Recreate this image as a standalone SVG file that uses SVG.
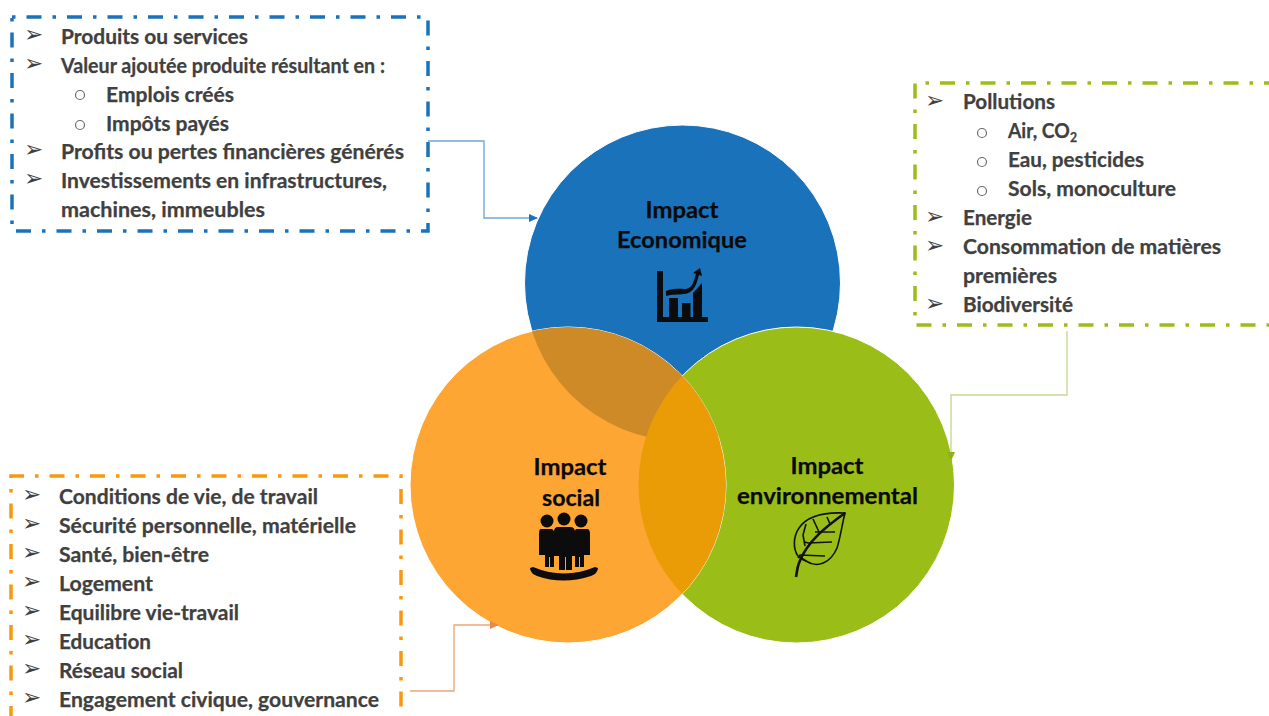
<svg xmlns="http://www.w3.org/2000/svg" width="1269" height="716" viewBox="0 0 1269 716">
<style>
.t{font-family:Lato,"Open Sans",sans-serif;font-weight:700;font-size:20.5px;fill:#404040;stroke:#404040;stroke-width:.25}
.b{font-family:"DejaVu Sans",sans-serif;font-size:23px;fill:#404040}
.o{fill:none;stroke:#6a6a6a;stroke-width:1.2}
.h{font-family:Lato,"Open Sans",sans-serif;font-weight:700;font-size:23.5px;fill:#0a0a0a;stroke:#0a0a0a;stroke-width:.25;text-anchor:middle}
.box{fill:none;stroke-width:3.5;stroke-dasharray:15 11 3.5 11}
.c{fill:none;stroke-width:1.4}
.k{fill:#0c0c0c}
</style>
<defs>
<clipPath id="cb"><circle cx="682.5" cy="283" r="158"/></clipPath>
<clipPath id="cg"><circle cx="796.5" cy="485" r="158"/></clipPath>
<marker id="ab" markerWidth="9" markerHeight="8" refX="8" refY="4" orient="auto" markerUnits="userSpaceOnUse"><path d="M0 0L9 4L0 8Z" fill="#1a72bb"/></marker>
<marker id="ag" markerWidth="9" markerHeight="8" refX="8" refY="4" orient="auto" markerUnits="userSpaceOnUse"><path d="M0 0L9 4L0 8Z" fill="#8fb01a"/></marker>
<marker id="ao" markerWidth="9" markerHeight="8" refX="8" refY="4" orient="auto" markerUnits="userSpaceOnUse"><path d="M0 0L9 4L0 8Z" fill="#e8874a"/></marker>
</defs>
<g id="circle-economique"><circle cx="682.5" cy="283" r="158" fill="#1a72bb" stroke="#fff"/></g>
<g id="circle-environnemental"><circle cx="796.5" cy="485" r="158" fill="#9bbd18" stroke="#fff"/></g>
<g id="circle-social"><circle cx="568" cy="485" r="158" fill="#fea633" stroke="#fff"/>
<circle cx="568" cy="485" r="158" fill="#cf8a28" clip-path="url(#cb)"/>
<circle cx="568" cy="485" r="158" fill="#ea9c06" clip-path="url(#cg)"/></g>
<g id="connectors">
<path class="c" d="M428 141H484V218H537" stroke="#6fa8d8" marker-end="url(#ab)"/>
<path class="c" d="M1067 331V395H951V460" stroke="#c5d79a" marker-end="url(#ag)"/>
<path class="c" d="M410 691H454V625H498" stroke="#eda77a" marker-end="url(#ao)"/>
</g>
<g id="label-economique">
<text class="h" x="682" y="218" textLength="73" lengthAdjust="spacingAndGlyphs">Impact</text><text class="h" x="682" y="248" textLength="130" lengthAdjust="spacingAndGlyphs">Economique</text>
<g class="k"><path d="M657 271h6v46h45v5h-51z"/><rect x="669" y="298" width="9" height="19"/><rect x="682" y="303" width="8.500" height="14"/><path d="M693 317v-24l9-10v34z"/>
<path d="M666 296l0-5c8-3 13-2 20-2c7-1 8-9 10-15l-3-1l7-5l2 8l-3-1c-2 7-4 18-15 19c-7 1-12 0-18 2z"/></g>
</g>
<g id="label-social">
<text class="h" x="570" y="475" textLength="73" lengthAdjust="spacingAndGlyphs">Impact</text><text class="h" x="571" y="506" textLength="58" lengthAdjust="spacingAndGlyphs">social</text>
<g class="k"><circle cx="547" cy="521" r="6.500"/><circle cx="564" cy="519" r="6.500"/><circle cx="581" cy="521" r="6.500"/>
<path d="M541 529h11l3 3v22h-1v13h-4v-10h-1v10h-4v-12h-6v-21q0-5 2-5z"/><path d="M576 529h11q3 0 3 5v21h-6v12h-4v-10h-1v10h-4v-13h-1v-22z"/>
<path d="M558 527h12q5 0 5 5v24h-3v14h-6v-13h-1v13h-6v-14h-5v-24q0-5 4-5z"/>
<path d="M530 568l3-1q31 13 62 0l3 1q0 5-7 8q-28 9-54 0q-7-3-7-8z"/></g>
</g>
<g id="label-environnemental">
<text class="h" x="827" y="474" textLength="73" lengthAdjust="spacingAndGlyphs">Impact</text><text class="h" x="827.500" y="504" textLength="181" lengthAdjust="spacingAndGlyphs">environnemental</text>
<g fill="none" stroke="#111" stroke-width="1.6"><path d="M845 513c-20-1-38 3-46 15c-6 9-6 21-1 28c2 2 5 4 8 5c12 8 25 1 31-13c3-9 5-23 8-35z"/>
<path d="M845 513c-18 13-38 28-46 50c-2 5-2 9-3 14" stroke-width="2.6"/>
<path d="M830 524l-3-7M819 532l-6-13M805 546l-2-11l3-11M835 532h-20M832 542l-24 1l-3-1M825 556l-25-1l-2 3M806 561l-6-4"/></g>
</g>
<g id="box-economique">
<path class="box" d="M12 17H428V231H12Z" stroke-dashoffset="26" stroke="#1a72bb"/>
<text class="b" x="24" y="42">➢</text><text class="t" x="61" y="44" textLength="187" lengthAdjust="spacingAndGlyphs">Produits ou services</text>
<text class="b" x="24" y="71">➢</text><text class="t" x="61" y="73" textLength="324" lengthAdjust="spacingAndGlyphs">Valeur ajoutée produite résultant en :</text>
<circle class="o" cx="80" cy="95" r="4.500"/><text class="t" x="106" y="102" textLength="128" lengthAdjust="spacingAndGlyphs">Emplois créés</text>
<circle class="o" cx="80" cy="125" r="4.500"/><text class="t" x="106" y="131" textLength="123" lengthAdjust="spacingAndGlyphs">Impôts payés</text>
<text class="b" x="24" y="157">➢</text><text class="t" x="61" y="159" textLength="343" lengthAdjust="spacingAndGlyphs">Profits ou pertes financières générés</text>
<text class="b" x="24" y="186">➢</text><text class="t" x="61" y="188" textLength="326" lengthAdjust="spacingAndGlyphs">Investissements en infrastructures,</text>
<text class="t" x="61" y="217" textLength="204" lengthAdjust="spacingAndGlyphs">machines, immeubles</text>
</g>
<g id="box-environnemental">
<path class="box" d="M1269 83H915V325H1269" stroke-dashoffset="10" stroke="#9bbd18"/>
<text class="b" x="925" y="108">➢</text><text class="t" x="963" y="109" textLength="92" lengthAdjust="spacingAndGlyphs">Pollutions</text>
<circle class="o" cx="982" cy="133" r="4.500"/><text class="t" x="1008" y="138" textLength="69" lengthAdjust="spacingAndGlyphs">Air, CO<tspan font-size="13" dy="4">2</tspan></text>
<circle class="o" cx="982" cy="162" r="4.500"/><text class="t" x="1008" y="167" textLength="136" lengthAdjust="spacingAndGlyphs">Eau, pesticides</text>
<circle class="o" cx="982" cy="191" r="4.500"/><text class="t" x="1008" y="196" textLength="168" lengthAdjust="spacingAndGlyphs">Sols, monoculture</text>
<text class="b" x="925" y="224">➢</text><text class="t" x="963" y="225" textLength="69" lengthAdjust="spacingAndGlyphs">Energie</text>
<text class="b" x="925" y="253">➢</text><text class="t" x="963" y="254" textLength="258" lengthAdjust="spacingAndGlyphs">Consommation de matières</text>
<text class="t" x="963" y="283" textLength="94" lengthAdjust="spacingAndGlyphs">premières</text>
<text class="b" x="925" y="311">➢</text><text class="t" x="963" y="312" textLength="110" lengthAdjust="spacingAndGlyphs">Biodiversité</text>
</g>
<g id="box-social">
<path class="box" d="M11 716V476H401V716" stroke-dashoffset="5" stroke="#f9980f"/>
<text class="b" x="22" y="502">➢</text><text class="t" x="59" y="504" textLength="259" lengthAdjust="spacingAndGlyphs">Conditions de vie, de travail</text>
<text class="b" x="22" y="531">➢</text><text class="t" x="59" y="533" textLength="297" lengthAdjust="spacingAndGlyphs">Sécurité personnelle, matérielle</text>
<text class="b" x="22" y="560">➢</text><text class="t" x="59" y="562" textLength="150" lengthAdjust="spacingAndGlyphs">Santé, bien-être</text>
<text class="b" x="22" y="589">➢</text><text class="t" x="59" y="591" textLength="94" lengthAdjust="spacingAndGlyphs">Logement</text>
<text class="b" x="22" y="618">➢</text><text class="t" x="59" y="620" textLength="180" lengthAdjust="spacingAndGlyphs">Equilibre vie-travail</text>
<text class="b" x="22" y="647">➢</text><text class="t" x="59" y="649" textLength="92" lengthAdjust="spacingAndGlyphs">Education</text>
<text class="b" x="22" y="676">➢</text><text class="t" x="59" y="678" textLength="124" lengthAdjust="spacingAndGlyphs">Réseau social</text>
<text class="b" x="22" y="705">➢</text><text class="t" x="59" y="707" textLength="320" lengthAdjust="spacingAndGlyphs">Engagement civique, gouvernance</text>
</g>
</svg>
